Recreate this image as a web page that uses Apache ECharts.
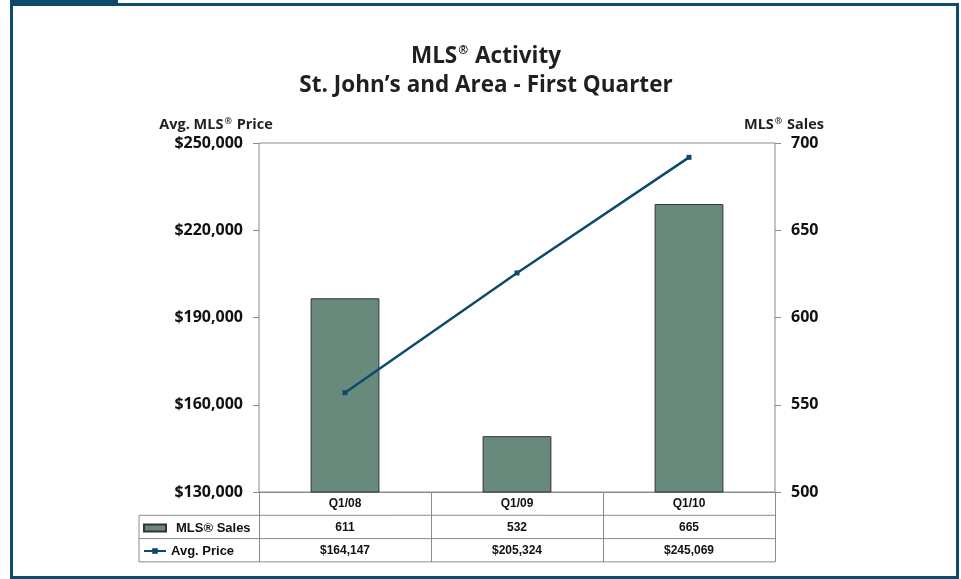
<!DOCTYPE html>
<html>
<head>
<meta charset="utf-8">
<script src="https://cdn.jsdelivr.net/npm/echarts@6/dist/echarts.min.js"></script>
<style>
html,body{margin:0;padding:0;background:#fff;}
#chart{width:961px;height:579px;}
</style>
</head>
<body>
<div id="chart"></div>
<script>
const categories = ['Q1/08', 'Q1/09', 'Q1/10'];
const salesValues = [611, 532, 665];
const priceValues = [164147, 205324, 245069];
const seriesNames = ['MLS® Sales', 'Avg. Price'];
const leftTicks = {min: 130000, max: 250000, interval: 30000};
const rightTicks = {min: 500, max: 700, interval: 50};

const FRAME = '#0d4a6b';
const BAR = '#678a7c';
const LINE = '#0d4a6b';
const GRIDC = '#8a8a8a';
const G = {left: 259, top: 143, right: 186, bottom: 87};
const plotRight = 961 - G.right;
const plotBottom = 579 - G.bottom;
const tableLeft = 139;
const rowH = 23.3;

function money(v) {
  return '$' + v.toLocaleString('en-US');
}

const chart = echarts.init(document.getElementById('chart'));
const titleFont = '"Open Sans", Lato, sans-serif';
const tableFont = '"Liberation Sans", Arial, sans-serif';
const TXT = '#231f20';

function nameRich(size, supSize, lh, supPad) {
  return {
    t: {fontFamily: titleFont, fontWeight: 'bold', fontSize: size, color: TXT, lineHeight: lh},
    s: {fontFamily: titleFont, fontWeight: 'bold', fontSize: supSize, color: TXT, lineHeight: lh, padding: supPad}
  };
}

const option = {
  animation: false,
  backgroundColor: '#fff',
  title: [{
    text: '{t|MLS}{s|®}{t| Activity}\n{t|St. John’s and Area - First Quarter}',
    left: 481, top: 37, textAlign: 'center',
    textStyle: {rich: nameRich(22.5, 12, 29, [0, 1, 12, 1])}
  }, {
    text: '{t|Avg. MLS}{s|®}{t| Price}',
    left: 211, top: 110, textAlign: 'center',
    textStyle: {rich: nameRich(14.5, 9, 19, [0, 1, 7, 1])}
  }, {
    text: '{t|MLS}{s|®}{t| Sales}',
    left: 779, top: 110, textAlign: 'center',
    textStyle: {rich: nameRich(14.5, 9, 19, [0, 1, 7, 1])}
  }],
  legend: {
    orient: 'vertical',
    left: 143, top: 521,
    padding: 0,
    itemWidth: 22, itemHeight: 7,
    itemGap: 9,
    textStyle: {
      fontFamily: tableFont, fontWeight: 'bold', fontSize: 13, color: '#111', lineHeight: 14,
      rich: {
        a: {fontFamily: tableFont, fontWeight: 'bold', fontSize: 13, color: '#111', lineHeight: 14, padding: [0, 0, 0, 5]},
        b: {fontFamily: tableFont, fontWeight: 'bold', fontSize: 13, color: '#111', lineHeight: 14}
      }
    },
    formatter: function (name) { return name === seriesNames[0] ? '{a|' + name + '}' : '{b|' + name + '}'; },
    data: [{name: seriesNames[0], icon: 'rect'}, {name: seriesNames[1]}]
  },
  grid: {
    left: G.left, top: G.top, right: G.right, bottom: G.bottom,
    show: true, borderColor: GRIDC, borderWidth: 1, backgroundColor: 'transparent'
  },
  xAxis: {
    type: 'category',
    data: categories,
    boundaryGap: true,
    axisLine: {show: true, lineStyle: {color: GRIDC, width: 1}},
    axisTick: {show: true, length: 70, interval: 0, lineStyle: {color: GRIDC, width: 1}},
    axisLabel: {
      interval: 0, margin: 0.5,
      formatter: function (value, index) {
        return '{v|' + value + '}\n{v|' + salesValues[index] + '}\n{v|' + money(priceValues[index]) + '}';
      },
      rich: {
        v: {fontFamily: tableFont, fontWeight: 'bold', fontSize: 12, color: '#111', lineHeight: rowH, align: 'center'}
      }
    },
    splitLine: {show: false}
  },
  yAxis: [{
    type: 'value',
    position: 'left',
    min: leftTicks.min, max: leftTicks.max, interval: leftTicks.interval,
    axisLine: {show: false},
    axisTick: {show: true, length: 6, lineStyle: {color: GRIDC}},
    axisLabel: {
      margin: 16,
      fontFamily: titleFont, fontWeight: 'bold', fontSize: 16, color: '#111',
      formatter: function (v) { return money(v); }
    },
    splitLine: {show: false}
  }, {
    type: 'value',
    position: 'right',
    min: rightTicks.min, max: rightTicks.max, interval: rightTicks.interval,
    axisLine: {show: false},
    axisTick: {show: true, length: 6, lineStyle: {color: GRIDC}},
    axisLabel: {margin: 16, fontFamily: titleFont, fontWeight: 'bold', fontSize: 16, color: '#111'},
    splitLine: {show: false}
  }],
  series: [{
    name: seriesNames[0],
    type: 'bar',
    yAxisIndex: 1,
    barWidth: '40%',
    data: salesValues,
    itemStyle: {color: BAR, borderColor: '#333', borderWidth: 1},
    z: 2
  }, {
    name: seriesNames[1],
    type: 'line',
    yAxisIndex: 0,
    data: priceValues,
    symbol: 'rect',
    symbolSize: 5,
    showSymbol: true,
    lineStyle: {color: LINE, width: 2.5},
    itemStyle: {color: LINE},
    z: 3
  }],
  graphic: [
    {type: 'rect', shape: {x: 11.5, y: 4.5, width: 946, height: 573}, style: {fill: 'none', stroke: FRAME, lineWidth: 3}, silent: true},
    {type: 'rect', shape: {x: 10, y: 0, width: 108, height: 6}, style: {fill: FRAME}, silent: true},
    {type: 'line', shape: {x1: tableLeft, y1: plotBottom + rowH, x2: plotRight, y2: plotBottom + rowH}, style: {stroke: GRIDC, lineWidth: 1}, silent: true},
    {type: 'line', shape: {x1: tableLeft, y1: plotBottom + 2 * rowH, x2: plotRight, y2: plotBottom + 2 * rowH}, style: {stroke: GRIDC, lineWidth: 1}, silent: true},
    {type: 'line', shape: {x1: tableLeft, y1: plotBottom + 3 * rowH, x2: plotRight, y2: plotBottom + 3 * rowH}, style: {stroke: GRIDC, lineWidth: 1}, silent: true},
    {type: 'line', shape: {x1: tableLeft, y1: plotBottom + rowH, x2: tableLeft, y2: plotBottom + 3 * rowH}, style: {stroke: GRIDC, lineWidth: 1}, silent: true}
  ]
};
chart.setOption(option);
</script>
</body>
</html>
